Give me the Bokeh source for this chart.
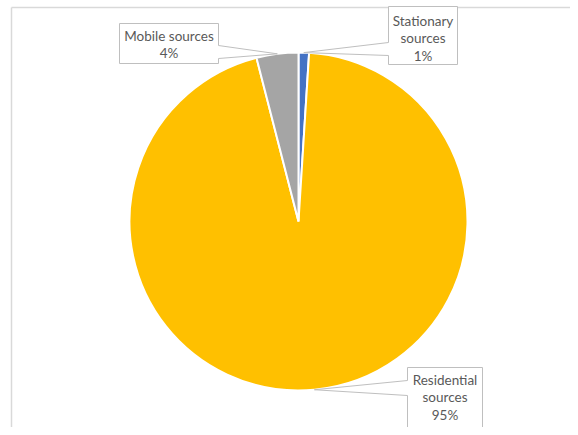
import math
from bokeh.plotting import figure
from bokeh.models import Range1d
from bokeh.core.properties import value
from bokeh.embed import file_html
from bokeh.resources import INLINE

# ---- data ----
categories = ["Stationary sources", "Residential sources", "Mobile sources"]
values = [1, 95, 4]
colors = ["#4472C4", "#FFC000", "#A5A5A5"]

# ---- layout (pixel coordinates from top-left) ----
W, H = 570, 427
def fx(px):
    return px
def fy(py):
    return H - py

CX, CY, R = 298, 221, 169

# callout boxes: (x0, y0, x1, y1, side, pa, pb, text center y)
boxes = {
    "Stationary sources": (388, 6, 457, 64, "left", 42, 55, 38),
    "Residential sources": (407, 367, 482, 440, "left", 380, 395, 397),
    "Mobile sources": (119, 23, 218, 63, "right", 45, 58, 44),
}
wrap = {"Stationary sources": True, "Residential sources": True, "Mobile sources": False}

p = figure(width=W, height=H, output_backend="svg", toolbar_location=None,
           x_range=Range1d(0, W), y_range=Range1d(0, H), min_border=0)
p.axis.visible = False
p.grid.visible = False
p.outline_line_color = None
p.background_fill_color = "white"
p.border_fill_color = "white"

# chart area border
p.line([fx(11), fx(11)], [fy(440), fy(7)], line_color="#D9D9D9", line_width=1.5)
p.line([fx(11), fx(580)], [fy(7), fy(7)], line_color="#D9D9D9", line_width=1.5)

total = float(sum(values))
cum = 0.0
mids = []
for cat, v, c in zip(categories, values, colors):
    f0 = cum / total
    f1 = (cum + v) / total
    a0 = math.pi / 2 - f0 * 2 * math.pi
    a1 = math.pi / 2 - f1 * 2 * math.pi
    p.wedge(x=[fx(CX)], y=[fy(CY)], radius=R, start_angle=[a0], end_angle=[a1],
            direction="clock", fill_color=c, line_color="white", line_width=2)
    mids.append(math.pi / 2 - (f0 + f1) / 2 * 2 * math.pi)
    cum += v

for cat, v, mid in zip(categories, values, mids):
    tx = CX + R * math.cos(mid)
    ty = CY - R * math.sin(mid)
    x0, y0, x1, y1, side, pa, pb, tcy = boxes[cat]
    if side == "right":
        pts = [(x0, y0), (x1, y0), (x1, pa), (tx, ty), (x1, pb), (x1, y1), (x0, y1)]
    else:
        pts = [(x0, y0), (x1, y0), (x1, y1), (x0, y1), (x0, pb), (tx, ty), (x0, pa)]
    xs = [fx(a) for a, b in pts]
    ys = [fy(b) for a, b in pts]
    p.patch(xs, ys, fill_color="white", line_color="#BFBFBF", line_width=1)
    name = cat.replace(" ", "\n") if wrap[cat] else cat
    label = f"{name}\n{v}%"
    p.text(x=[fx((x0 + x1) / 2)], y=[fy(tcy)], text=[label],
           text_font=value("Lato"), text_font_size="13.5px", text_color="#595959",
           text_align="center", text_baseline="middle", text_line_height=1.12)

open("out.html", "w").write(file_html(p, INLINE))
